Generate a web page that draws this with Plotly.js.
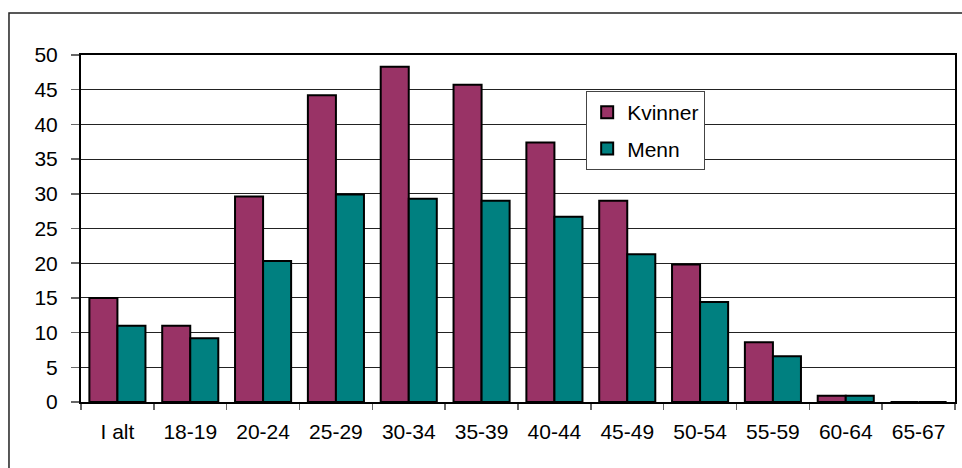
<!DOCTYPE html>
<html>
<head>
<meta charset="utf-8">
<script src="https://cdn.plot.ly/plotly-3.0.1.min.js"></script>
<style>html,body{margin:0;padding:0;background:#fff;}#chart{width:962px;height:468px;}</style>
</head>
<body>
<div id="chart"></div>
<script>
var categories = ['I alt','18-19','20-24','25-29','30-34','35-39','40-44','45-49','50-54','55-59','60-64','65-67'];
var kvinner = [15.0, 11.0, 29.6, 44.2, 48.3, 45.7, 37.4, 29.0, 19.8, 8.6, 0.9, 0];
var menn = [11.0, 9.2, 20.3, 29.9, 29.3, 29.0, 26.7, 21.3, 14.4, 6.6, 0.9, 0];
var seriesNames = ['Kvinner', 'Menn'];
var yTicks = [0,5,10,15,20,25,30,35,40,45,50];

var font = {family: 'Liberation Sans, Arial, sans-serif', size: 21, color: '#000'};

var traces = [
  {type:'bar', name: seriesNames[0], x: categories, y: kvinner, legendgroup:'a',
   marker:{color:'#993366', line:{color:'#000', width:2}}},
  {type:'bar', name: seriesNames[1], x: categories, y: menn, legendgroup:'b',
   marker:{color:'#008080', line:{color:'#000', width:2}}}
];

var layout = {
  width: 962, height: 468,
  margin: {l:81, r:7, t:55, b:66, pad:0},
  paper_bgcolor:'#fff', plot_bgcolor:'#fff',
  font: font,
  barmode:'group', bargap:0.23, bargroupgap:0,
  showlegend:true,
  legend: {x:0.578, y:0.896, xanchor:'left', yanchor:'top',
           bgcolor:'#fff', bordercolor:'#444', borderwidth:1,
           font:{family:font.family, size:21, color:'#000'},
           tracegroupgap:6, traceorder:'grouped'},
  xaxis: {type:'category', tickson:'boundaries', ticks:'outside', ticklen:6, tickcolor:'#666', tickwidth:1.5,
          showline:true, linecolor:'#000', linewidth:2, mirror:true, showgrid:false,
          ticklabelstandoff:10,
          tickfont:{family:font.family, size:21, color:'#000'}, fixedrange:true},
  yaxis: {range:[0,50], tickvals:yTicks, ticks:'outside', ticklen:8, tickcolor:'#666', tickwidth:1.5,
          showline:true, linecolor:'#000', linewidth:2, mirror:true,
          showgrid:true, gridcolor:'#222', gridwidth:1, zeroline:false,
          ticklabelstandoff:9,
          tickfont:{family:font.family, size:21, color:'#000'}, fixedrange:true},
  shapes: [
    {type:'rect', xref:'paper', yref:'paper', x0:-0.0824, x1:1.2, y0:-0.5, y1:1.121,
     line:{color:'#222', width:1.5}, fillcolor:'rgba(0,0,0,0)', layer:'below'}
  ]
};

Plotly.newPlot('chart', traces, layout, {displayModeBar:false, staticPlot:true});
</script>
</body>
</html>
